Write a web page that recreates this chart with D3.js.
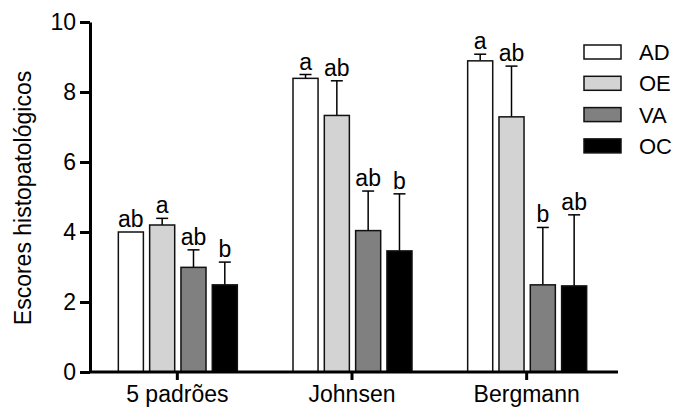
<!DOCTYPE html>
<html>
<head>
<meta charset="utf-8">
<script src="https://cdn.jsdelivr.net/npm/d3@7"></script>
<style>
  body { margin: 0; background: #fff; }
  svg text { font-family: "Liberation Sans", Arial, sans-serif; fill: #000; }
</style>
</head>
<body>
<div id="chart"></div>
<script>
const groups = ['5 padrões', 'Johnsen', 'Bergmann']
const series = ['AD', 'OE', 'VA', 'OC']
const colors = ['#ffffff', '#d3d3d3', '#808080', '#000000']
// mean values per series, in group order
const means = {
  AD: [4.0, 8.39, 8.89],
  OE: [4.2, 7.33, 7.29],
  VA: [2.99, 4.04, 2.49],
  OC: [2.49, 3.46, 2.46]
}
// upper error bar length
const errs = {
  AD: [0, 0.11, 0.19],
  OE: [0.19, 0.99, 1.45],
  VA: [0.5, 1.13, 1.64],
  OC: [0.65, 1.63, 2.03]
}
const letters = {
  AD: ['ab', 'a', 'a'],
  OE: ['a', 'ab', 'ab'],
  VA: ['ab', 'ab', 'b'],
  OC: ['b', 'b', 'ab']
}
const yTicks = [0, 2, 4, 6, 8, 10]

const width = 680, height = 411
const fs = 23
const svg = d3.select('#chart').append('svg')
  .attr('width', width)
  .attr('height', height)

const y = d3.scaleLinear().domain([0, 10]).range([372, 22])
const x0 = d3.scaleBand().domain(groups).range([90, 614]).padding(0)
const x1 = d3.scaleBand().domain(series).range([-59, 60]).paddingInner(0.2).paddingOuter(0)

const data = []
groups.forEach((g, gi) => {
  series.forEach((s, si) => {
    data.push({ g, s, si, v: means[s][gi], e: errs[s][gi], l: letters[s][gi] })
  })
})

const groupG = svg.selectAll('.bar')
  .data(data)
  .enter().append('g')
  .attr('class', 'bar')
  .attr('transform', d => `translate(${x0(d.g) + x0.bandwidth() / 2},0)`)

groupG.filter(d => d.e > 0).append('line')
  .attr('x1', d => x1(d.s) + x1.bandwidth() / 2)
  .attr('x2', d => x1(d.s) + x1.bandwidth() / 2)
  .attr('y1', d => y(d.v))
  .attr('y2', d => y(d.v + d.e))
  .attr('stroke', '#000')
  .attr('stroke-width', 1.5)

groupG.filter(d => d.e > 0).append('line')
  .attr('x1', d => x1(d.s) + x1.bandwidth() / 2 - 6)
  .attr('x2', d => x1(d.s) + x1.bandwidth() / 2 + 6)
  .attr('y1', d => y(d.v + d.e))
  .attr('y2', d => y(d.v + d.e))
  .attr('stroke', '#000')
  .attr('stroke-width', 1.5)

groupG.append('rect')
  .attr('x', d => x1(d.s))
  .attr('y', d => y(d.v))
  .attr('width', x1.bandwidth())
  .attr('height', d => y(0) - y(d.v))
  .attr('fill', d => colors[d.si])
  .attr('stroke', '#111')
  .attr('stroke-width', 1.5)

groupG.append('text')
  .attr('x', d => x1(d.s) + x1.bandwidth() / 2)
  .attr('y', d => y(d.v + d.e) - 5)
  .attr('text-anchor', 'middle')
  .attr('font-size', fs)
  .text(d => d.l)

// y axis
const yAxis = svg.append('g')
  .attr('transform', 'translate(90,0)')
  .call(d3.axisLeft(y).tickValues(yTicks).tickSize(10).tickSizeOuter(0).tickPadding(4))
yAxis.select('.domain').attr('stroke-width', 3)
yAxis.selectAll('.tick line').attr('stroke-width', 3)
yAxis.selectAll('.tick text').attr('font-size', fs).attr('font-family', '"Liberation Sans", Arial, sans-serif')

// x axis
const xAxis = svg.append('g')
  .attr('transform', 'translate(0,372)')
  .call(d3.axisBottom(x0).tickSize(8).tickSizeOuter(0).tickPadding(6))
xAxis.select('.domain').attr('d', 'M90,0H618').attr('stroke-width', 3)
xAxis.selectAll('.tick line').attr('stroke-width', 3)
xAxis.selectAll('.tick text').attr('font-size', fs).attr('font-family', '"Liberation Sans", Arial, sans-serif')

svg.append('text')
  .attr('transform', 'translate(31,198) rotate(-90)')
  .attr('text-anchor', 'middle')
  .attr('font-size', fs)
  .text('Escores histopatológicos')

// legend
const legend = svg.selectAll('.legend')
  .data(series)
  .enter().append('g')
  .attr('class', 'legend')
  .attr('transform', (d, i) => `translate(584,${45 + i * 31.3})`)
legend.append('rect')
  .attr('width', 37)
  .attr('height', 14)
  .attr('fill', (d, i) => colors[i])
  .attr('stroke', '#111')
  .attr('stroke-width', 1.5)
legend.append('text')
  .attr('x', 55)
  .attr('y', 7)
  .attr('dy', '0.36em')
  .attr('font-size', 22)
  .text(d => d)
</script>
</body>
</html>
